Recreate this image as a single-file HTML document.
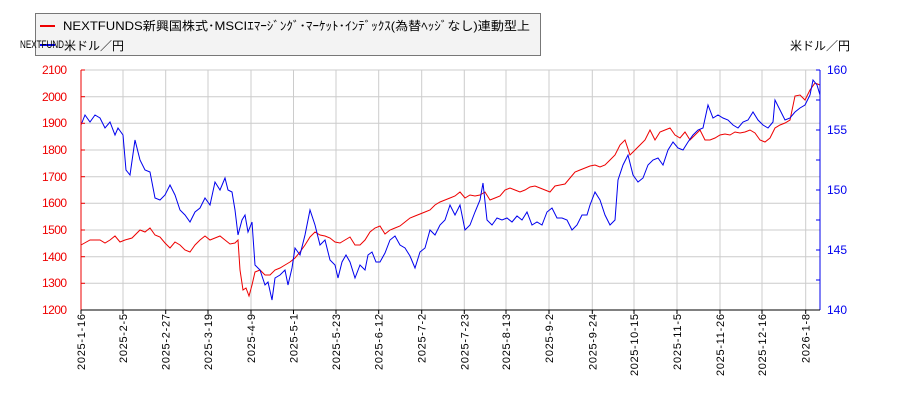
<!DOCTYPE html>
<html><head><meta charset="utf-8"><style>
body{margin:0;background:#fff;}
svg text{font-family:"Liberation Sans","Noto Sans CJK JP",sans-serif;}
</style></head><body>
<svg width="900" height="400" xmlns="http://www.w3.org/2000/svg">
<rect width="900" height="400" fill="#fff"/>
<g stroke="#ccc" stroke-width="1">
<line x1="81" y1="96.7" x2="820" y2="96.7"/><line x1="81" y1="123.3" x2="820" y2="123.3"/><line x1="81" y1="150" x2="820" y2="150"/><line x1="81" y1="176.7" x2="820" y2="176.7"/><line x1="81" y1="203.3" x2="820" y2="203.3"/><line x1="81" y1="230" x2="820" y2="230"/><line x1="81" y1="256.7" x2="820" y2="256.7"/><line x1="81" y1="283.3" x2="820" y2="283.3"/><line x1="81" y1="70" x2="820" y2="70"/>
<line x1="123" y1="70" x2="123" y2="310"/><line x1="165.7" y1="70" x2="165.7" y2="310"/><line x1="208" y1="70" x2="208" y2="310"/><line x1="251" y1="70" x2="251" y2="310"/><line x1="293.5" y1="70" x2="293.5" y2="310"/><line x1="336" y1="70" x2="336" y2="310"/><line x1="378.7" y1="70" x2="378.7" y2="310"/><line x1="421.7" y1="70" x2="421.7" y2="310"/><line x1="464.3" y1="70" x2="464.3" y2="310"/><line x1="506" y1="70" x2="506" y2="310"/><line x1="549" y1="70" x2="549" y2="310"/><line x1="592.3" y1="70" x2="592.3" y2="310"/><line x1="634" y1="70" x2="634" y2="310"/><line x1="677" y1="70" x2="677" y2="310"/><line x1="720" y1="70" x2="720" y2="310"/><line x1="762" y1="70" x2="762" y2="310"/><line x1="805.7" y1="70" x2="805.7" y2="310"/>
</g>
<polyline fill="none" stroke="#e00" stroke-width="1" points="81,245 90,240 100,240 105,243 110,240 115,236 120,242 125,240 132,238 140,230 145,232 150,228 155,235 160,237 165,243 170,248 175,242 180,245 185,250 190,252 195,245 200,240 205,236 210,240 215,238 220,236 225,240 230,244 235,243 238,240 240,270 243,290 246,288 249,296 252,285 255,272 260,270 265,275 270,275 275,270 280,268 285,265 290,262 295,258 300,252 305,245 310,237 315,232 320,235 325,236 330,238 335,242 340,243 345,240 350,237 355,245 360,245 365,240 370,232 375,228 380,226 385,234 390,230 395,228 400,226 405,222 410,218 415,216 420,214 425,212 430,210 435,205 440,202 445,200 450,198 455,196 460,192 465,198 470,195 475,196 480,195 485,192 490,200 495,198 500,196 505,190 510,188 515,190 520,192 525,190 530,187 535,186 540,188 545,190 550,192 555,186 560,185 565,184 570,178 575,172 580,170 585,168 590,166 595,165 600,167 605,165 610,160 615,155 620,145 625,140 630,155 635,150 640,145 645,140 650,130 655,140 660,132 665,130 670,128 675,135 680,138 685,132 690,140 695,135 700,130 705,140 710,140 715,138 720,135 725,134 730,135 735,132 740,133 745,132 750,130 755,133 760,140 765,142 770,138 775,128 780,125 785,123 790,120 795,96 800,95 805,100 810,90 815,83 820,85"/>
<polyline fill="none" stroke="#00e" stroke-width="1" points="81,125 85,115 90,122 95,115 100,118 105,128 110,122 115,135 118,128 123,135 126,170 130,175 135,140 140,160 145,170 150,172 155,198 160,200 165,195 170,185 175,195 180,210 185,215 190,222 195,212 200,208 205,198 210,205 215,182 220,190 225,178 228,190 232,192 235,210 238,235 242,220 245,215 248,232 252,222 255,265 260,270 265,285 268,282 272,300 275,278 280,275 285,270 288,285 292,268 295,248 300,255 305,235 310,210 315,225 320,245 325,240 330,260 335,265 338,278 342,262 346,255 350,262 355,278 360,265 365,270 368,255 372,252 376,262 380,262 385,253 390,240 395,236 400,245 405,248 410,256 415,268 420,252 425,248 430,230 435,235 440,225 445,220 450,205 455,215 460,205 465,230 470,225 475,212 480,200 483,183 487,220 492,225 497,218 502,220 507,218 512,222 517,216 522,220 527,212 532,225 537,222 542,225 547,212 552,208 557,218 562,218 567,220 572,230 577,225 582,215 587,215 590,205 595,192 600,200 605,215 610,225 615,220 618,180 623,165 628,155 633,175 638,182 643,178 648,165 653,160 658,158 663,165 668,150 673,142 678,148 683,150 688,142 693,135 698,130 703,128 708,105 713,118 718,115 723,118 728,120 733,125 738,128 743,122 748,120 753,112 758,120 763,125 768,128 773,122 775,100 780,110 785,120 790,118 795,112 800,108 805,105 810,95 813,80 817,85 820,95"/>
<line x1="81" y1="70" x2="81" y2="310" stroke="#e00"/>
<line x1="820" y1="70" x2="820" y2="310" stroke="#00e"/>
<line x1="81" y1="310" x2="820" y2="310" stroke="#000"/>
<g stroke="#e00"><line x1="81" y1="70" x2="85" y2="70"/><line x1="81" y1="96.7" x2="85" y2="96.7"/><line x1="81" y1="123.3" x2="85" y2="123.3"/><line x1="81" y1="150" x2="85" y2="150"/><line x1="81" y1="176.7" x2="85" y2="176.7"/><line x1="81" y1="203.3" x2="85" y2="203.3"/><line x1="81" y1="230" x2="85" y2="230"/><line x1="81" y1="256.7" x2="85" y2="256.7"/><line x1="81" y1="283.3" x2="85" y2="283.3"/></g>
<g stroke="#00e"><line x1="816" y1="70" x2="820" y2="70"/><line x1="816" y1="100" x2="820" y2="100"/><line x1="816" y1="130" x2="820" y2="130"/><line x1="816" y1="160" x2="820" y2="160"/><line x1="816" y1="190" x2="820" y2="190"/><line x1="816" y1="220" x2="820" y2="220"/><line x1="816" y1="250" x2="820" y2="250"/><line x1="816" y1="280" x2="820" y2="280"/></g>
<g font-size="12" fill="#e00">
<text x="42" y="74" textLength="25">2100</text><text x="42" y="101" textLength="25">2000</text><text x="42" y="127" textLength="25">1900</text><text x="42" y="154" textLength="25">1800</text><text x="42" y="181" textLength="25">1700</text><text x="42" y="207" textLength="25">1600</text><text x="42" y="234" textLength="25">1500</text><text x="42" y="261" textLength="25">1400</text><text x="42" y="287" textLength="25">1300</text><text x="42" y="314" textLength="25">1200</text>
</g>
<g font-size="12" fill="#00e">
<text x="827" y="74" textLength="20">160</text><text x="827" y="134" textLength="20">155</text><text x="827" y="194" textLength="20">150</text><text x="827" y="254" textLength="20">145</text><text x="827" y="314" textLength="20">140</text>
</g>
<g stroke="#000"><line x1="81" y1="310" x2="81" y2="314"/><line x1="123" y1="310" x2="123" y2="314"/><line x1="165.7" y1="310" x2="165.7" y2="314"/><line x1="208" y1="310" x2="208" y2="314"/><line x1="251" y1="310" x2="251" y2="314"/><line x1="293.5" y1="310" x2="293.5" y2="314"/><line x1="336" y1="310" x2="336" y2="314"/><line x1="378.7" y1="310" x2="378.7" y2="314"/><line x1="421.7" y1="310" x2="421.7" y2="314"/><line x1="464.3" y1="310" x2="464.3" y2="314"/><line x1="506" y1="310" x2="506" y2="314"/><line x1="549" y1="310" x2="549" y2="314"/><line x1="592.3" y1="310" x2="592.3" y2="314"/><line x1="634" y1="310" x2="634" y2="314"/><line x1="677" y1="310" x2="677" y2="314"/><line x1="720" y1="310" x2="720" y2="314"/><line x1="762" y1="310" x2="762" y2="314"/><line x1="805.7" y1="310" x2="805.7" y2="314"/></g>
<g font-size="11" fill="#000" text-anchor="end">
<text transform="translate(85,314) rotate(-90)" textLength="56">2025-1-16</text>
<text transform="translate(127,314) rotate(-90)" textLength="49">2025-2-5</text>
<text transform="translate(169.7,314) rotate(-90)" textLength="56">2025-2-27</text>
<text transform="translate(212,314) rotate(-90)" textLength="56">2025-3-19</text>
<text transform="translate(255,314) rotate(-90)" textLength="49">2025-4-9</text>
<text transform="translate(297.5,314) rotate(-90)" textLength="49">2025-5-1</text>
<text transform="translate(340,314) rotate(-90)" textLength="56">2025-5-23</text>
<text transform="translate(382.7,314) rotate(-90)" textLength="56">2025-6-12</text>
<text transform="translate(425.7,314) rotate(-90)" textLength="49">2025-7-2</text>
<text transform="translate(468.3,314) rotate(-90)" textLength="56">2025-7-23</text>
<text transform="translate(510,314) rotate(-90)" textLength="56">2025-8-13</text>
<text transform="translate(553,314) rotate(-90)" textLength="49">2025-9-2</text>
<text transform="translate(596.3,314) rotate(-90)" textLength="56">2025-9-24</text>
<text transform="translate(638,314) rotate(-90)" textLength="62">2025-10-15</text>
<text transform="translate(681,314) rotate(-90)" textLength="56">2025-11-5</text>
<text transform="translate(724,314) rotate(-90)" textLength="62">2025-11-26</text>
<text transform="translate(766,314) rotate(-90)" textLength="62">2025-12-16</text>
<text transform="translate(809.7,314) rotate(-90)" textLength="49">2026-1-8</text>
</g>
<rect x="35.5" y="13.5" width="505" height="42" fill="#f3f3f3" stroke="#777"/>
<line x1="40" y1="26" x2="55" y2="26" stroke="#e00" stroke-width="2"/>
<line x1="40" y1="45" x2="55" y2="45" stroke="#00e" stroke-width="2"/>
<text x="63" y="30" font-size="12" fill="#000" textLength="467" lengthAdjust="spacingAndGlyphs">NEXTFUNDS新興国株式･MSCIｴﾏｰｼﾞﾝｸﾞ･ﾏｰｹｯﾄ･ｲﾝﾃﾞｯｸｽ(為替ﾍｯｼﾞなし)連動型上</text>
<text x="20" y="48" font-size="11" fill="#000" textLength="44" lengthAdjust="spacingAndGlyphs">NEXTFUND</text>
<text x="64" y="50" font-size="12" fill="#000">米ドル／円</text>
<text x="790" y="50" font-size="12" fill="#000">米ドル／円</text>
</svg>
</body></html>
